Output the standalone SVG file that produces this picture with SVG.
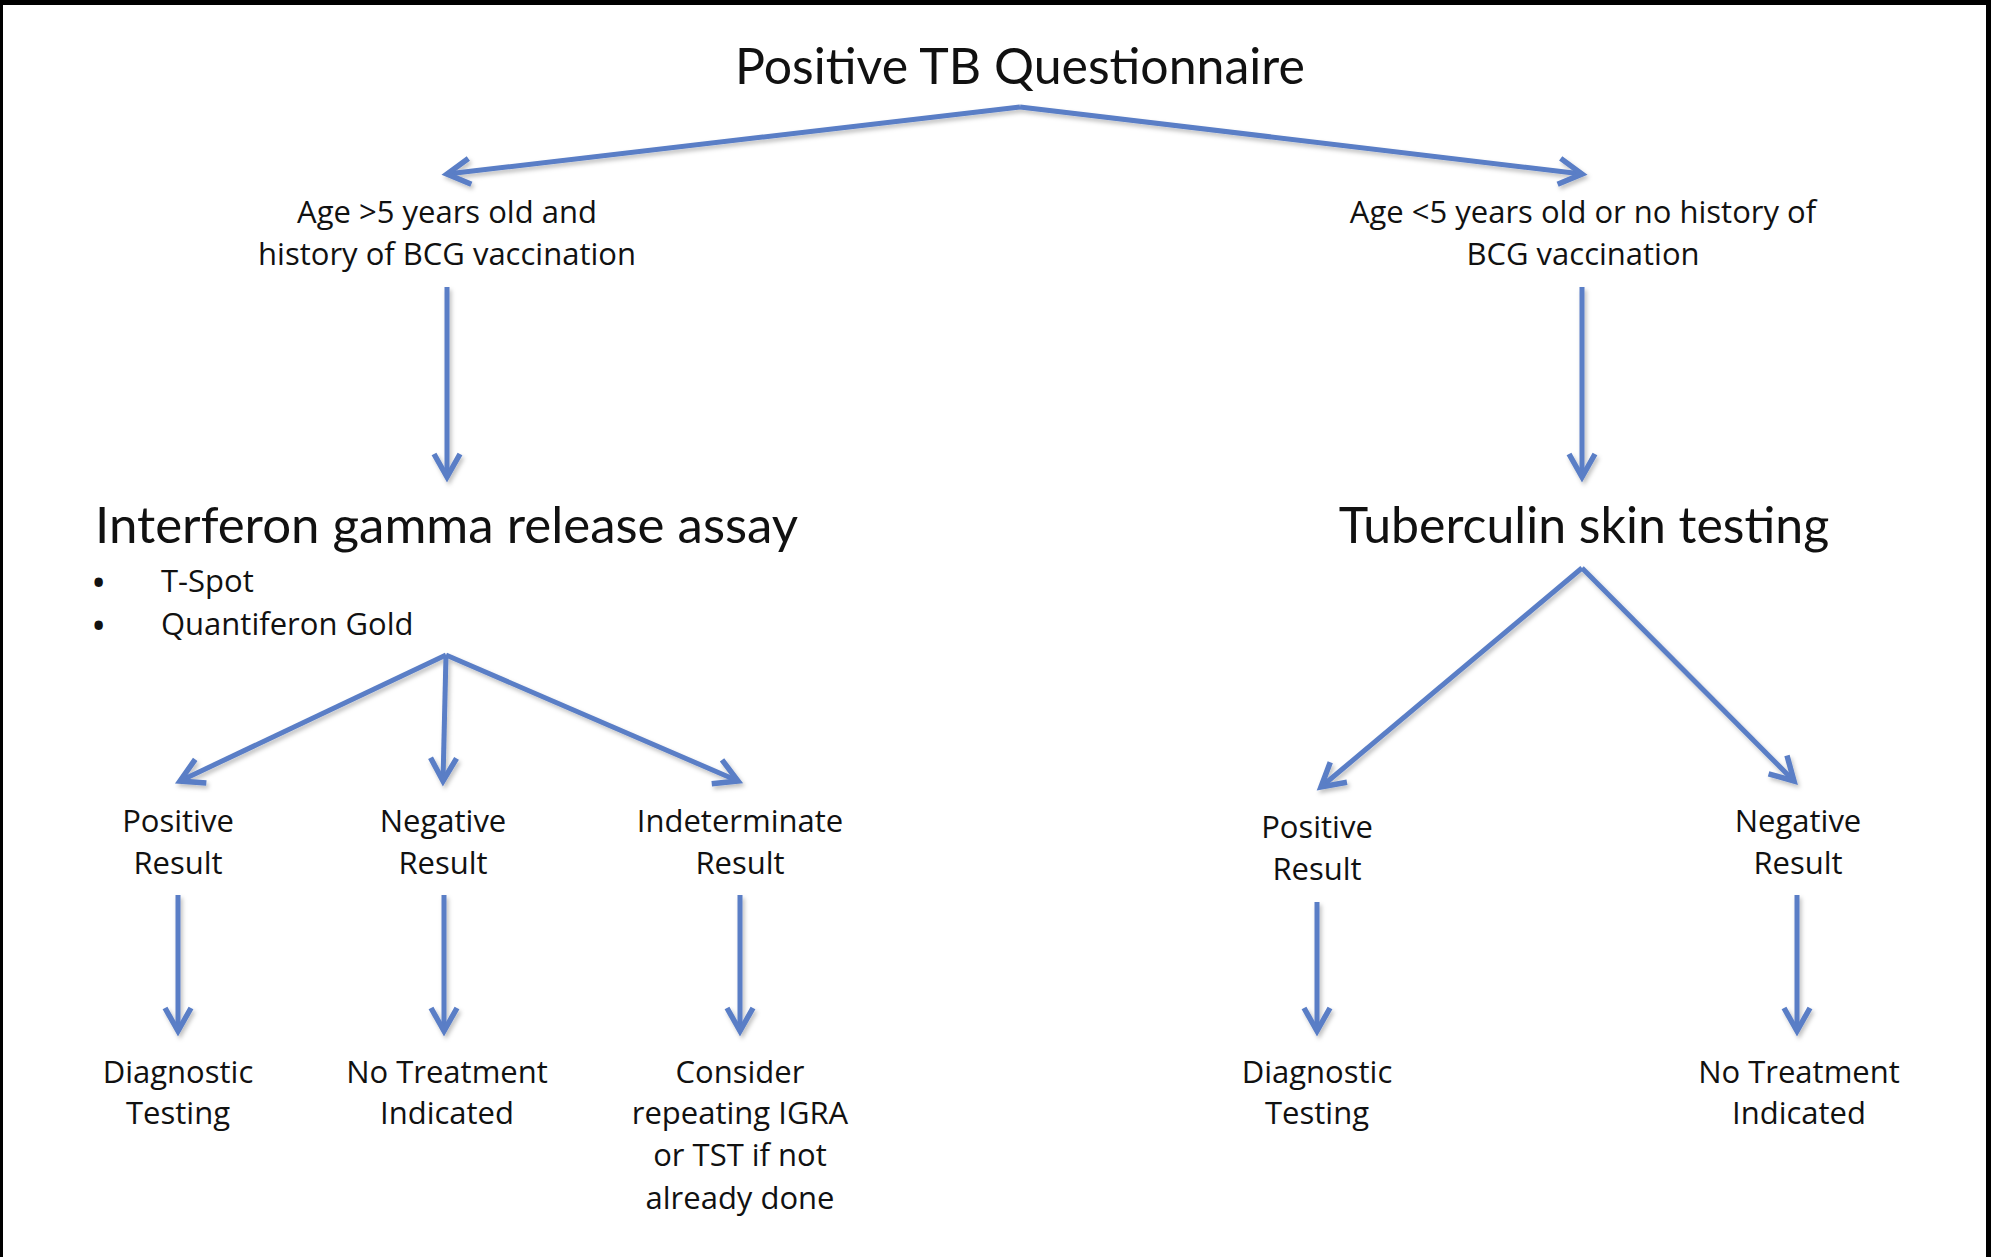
<svg xmlns="http://www.w3.org/2000/svg" width="1991" height="1257" viewBox="0 0 1991 1257">
  <style>
    text { font-family: Lato, "Liberation Sans", sans-serif; fill: #111; }
    .t { font-size: 50px; text-anchor: middle; }
    .h { font-size: 51px; }
    .hm { font-size: 50px; text-anchor: middle; }
    .l { font-family: "Open Sans", Lato, sans-serif; font-size: 31px; text-anchor: middle; }
    .b { font-family: "Open Sans", Lato, sans-serif; font-size: 31px; }
    .bu { font-family: "Open Sans", Lato, sans-serif; font-size: 30px; font-weight: bold; }
    .c { fill: none; stroke: #5a7ec6; stroke-width: 5; marker-end: url(#ah); }
  </style>
  <defs>
    <marker id="ah" markerUnits="userSpaceOnUse" markerWidth="40" markerHeight="40" viewBox="-30 -20 40 40" refX="0" refY="0" orient="auto">
      <path d="M-23,-13 L0,0 L-23,13" fill="none" stroke="#5a7ec6" stroke-width="5.5"/>
    </marker>
    <filter id="sh" filterUnits="userSpaceOnUse" x="0" y="0" width="1991" height="1257">
      <feDropShadow dx="2" dy="3" stdDeviation="2" flood-color="#000" flood-opacity="0.25"/>
    </filter>
  </defs>
  <rect x="0" y="0" width="1991" height="1257" fill="#fff"/>
  <rect x="0" y="0" width="1991" height="5" fill="#000"/>
  <rect x="0" y="0" width="3" height="1257" fill="#000"/>
  <rect x="1986" y="0" width="5" height="1257" fill="#000"/>

  <g id="connectors" filter="url(#sh)">
    <path class="c" d="M1020,107 L447,174"/>
    <path class="c" d="M1020,107 L1582,174"/>
    <path class="c" d="M447,287 L447,477"/>
    <path class="c" d="M1582,287 L1582,477"/>
    <path class="c" d="M446,655 L180,781"/>
    <path class="c" d="M446,655 L443,781"/>
    <path class="c" d="M446,655 L738,781"/>
    <path class="c" d="M178,895 L178,1031"/>
    <path class="c" d="M444,895 L444,1031"/>
    <path class="c" d="M740,895 L740,1031"/>
    <path class="c" d="M1582,568 L1321,787"/>
    <path class="c" d="M1582,568 L1794,781"/>
    <path class="c" d="M1317,902 L1317,1031"/>
    <path class="c" d="M1797,895 L1797,1031"/>
  </g>

  <g id="n-title"><text class="t" x="1020" y="84">Positive TB Questionnaire</text></g>
  <g id="n-ageL">
    <text class="l" x="447" y="223">Age &gt;5 years old and</text>
    <text class="l" x="447" y="265">history of BCG vaccination</text>
  </g>
  <g id="n-ageR">
    <text class="l" x="1583" y="223">Age &lt;5 years old or no history of</text>
    <text class="l" x="1583" y="265">BCG vaccination</text>
  </g>
  <g id="n-igra">
    <text class="h" x="95" y="543">Interferon gamma release assay</text>
    <text class="bu" x="93" y="593">•</text>
    <text class="b" x="161" y="592">T-Spot</text>
    <text class="bu" x="93" y="636">•</text>
    <text class="b" x="161" y="635">Quantiferon Gold</text>
  </g>
  <g id="n-tst"><text class="hm" x="1584" y="543">Tuberculin skin testing</text></g>

  <g id="n-posL">
    <text class="l" x="178" y="832">Positive</text>
    <text class="l" x="178" y="874">Result</text>
  </g>
  <g id="n-negL">
    <text class="l" x="443" y="832">Negative</text>
    <text class="l" x="443" y="874">Result</text>
  </g>
  <g id="n-indL">
    <text class="l" x="740" y="832">Indeterminate</text>
    <text class="l" x="740" y="874">Result</text>
  </g>
  <g id="n-diagL">
    <text class="l" x="178" y="1083">Diagnostic</text>
    <text class="l" x="178" y="1124">Testing</text>
  </g>
  <g id="n-notxL">
    <text class="l" x="447" y="1083">No Treatment</text>
    <text class="l" x="447" y="1124">Indicated</text>
  </g>
  <g id="n-consider">
    <text class="l" x="740" y="1083">Consider</text>
    <text class="l" x="740" y="1124">repeating IGRA</text>
    <text class="l" x="740" y="1166">or TST if not</text>
    <text class="l" x="740" y="1209">already done</text>
  </g>
  <g id="n-posR">
    <text class="l" x="1317" y="838">Positive</text>
    <text class="l" x="1317" y="880">Result</text>
  </g>
  <g id="n-negR">
    <text class="l" x="1798" y="832">Negative</text>
    <text class="l" x="1798" y="874">Result</text>
  </g>
  <g id="n-diagR">
    <text class="l" x="1317" y="1083">Diagnostic</text>
    <text class="l" x="1317" y="1124">Testing</text>
  </g>
  <g id="n-notxR">
    <text class="l" x="1799" y="1083">No Treatment</text>
    <text class="l" x="1799" y="1124">Indicated</text>
  </g>
</svg>
